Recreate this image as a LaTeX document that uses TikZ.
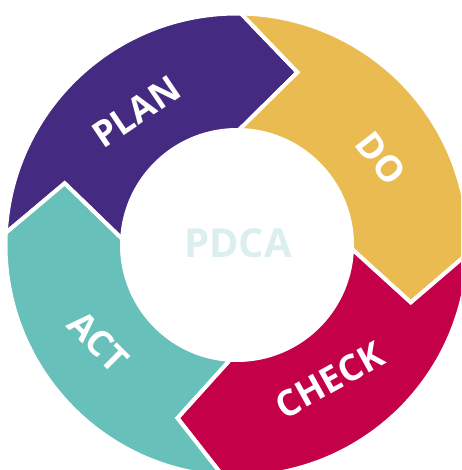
\documentclass[tikz,border=0pt]{standalone}
\usepackage{fontspec}
\setsansfont{Open Sans}

\definecolor{plan}{RGB}{68,42,128}
\definecolor{do}{RGB}{234,187,80}
\definecolor{check}{RGB}{196,0,72}
\definecolor{act}{RGB}{104,192,186}
\definecolor{centre}{RGB}{220,239,238}

\begin{document}
\begin{tikzpicture}[
        x = 1pt, y = 1pt,
        segment/.style = {
            fill = #1,
            draw = white,
            line width = 4pt,
            line join = miter
        },
        phase/.style = {
            text = white,
            font = \sffamily\bfseries\fontsize{36}{36}\selectfont,
            inner sep = 0pt
        }
    ]
    \useasboundingbox (-237,-225) rectangle (224,245);
    \clip (-237,-225) rectangle (224,245);

    % outer ring, inner ring and arrow tip radius
    \def\ro{231.5}
    \def\ri{115}
    \def\rt{183}

    % PLAN
    \path[segment=plan] (177:\ro) arc[start angle=177, end angle=89, radius=\ro pt]
        -- (70.7:\rt) -- (89:\ri) arc[start angle=89, end angle=177, radius=\ri pt]
        -- (160.3:\rt) -- cycle;
    % DO
    \path[segment=do] (89:\ro) arc[start angle=89, end angle=-2, radius=\ro pt]
        -- (-18.3:\rt) -- (-2:\ri) arc[start angle=-2, end angle=89, radius=\ri pt]
        -- (70.7:\rt) -- cycle;
    % CHECK
    \path[segment=check] (-2:\ro) arc[start angle=-2, end angle=-93.5, radius=\ro pt]
        -- (-109:\rt) -- (-93.5:\ri) arc[start angle=-93.5, end angle=-2, radius=\ri pt]
        -- (-18.3:\rt) -- cycle;
    % ACT
    \path[segment=act] (-93.5:\ro) arc[start angle=-93.5, end angle=-183, radius=\ro pt]
        -- (160.3:\rt) -- (177:\ri) arc[start angle=-183, end angle=-93.5, radius=\ri pt]
        -- (-109:\rt) -- cycle;

    % labels
    \node[phase, rotate=34] (plan) at (127.2:167) {PLAN};
    \node[phase, rotate=-52] (do) at (30.9:168) {DO};
    \node[phase, rotate=29] (check) at (-55.6:164) {CHECK};
    \node[phase, rotate=-45] (act) at (214.9:169) {ACT};
    \node[text=centre, font=\sffamily\bfseries\fontsize{40}{40}\selectfont] (pdca) at (1,2) {PDCA};
\end{tikzpicture}
\end{document}
